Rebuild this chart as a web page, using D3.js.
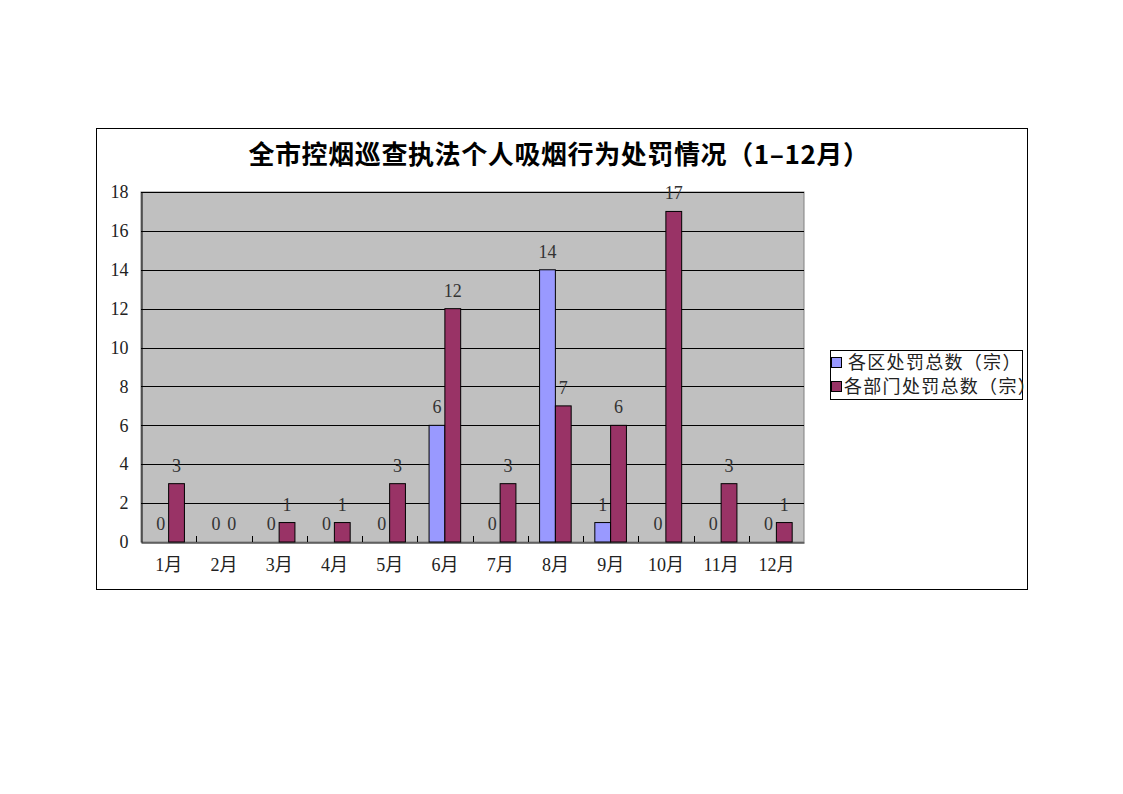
<!DOCTYPE html>
<html>
<head>
<meta charset="utf-8">
<script src="https://cdn.jsdelivr.net/npm/d3@7"></script>
<style>
  body { margin: 0; background: #fff; }
  text { font-family: "Liberation Serif", "DejaVu Serif", "Noto Sans CJK SC", serif; fill: #222; }
</style>
</head>
<body>
<svg id="chart" width="1123" height="794"></svg>
<script>
// data
var months = ["1月", "2月", "3月", "4月", "5月", "6月", "7月", "8月", "9月", "10月", "11月", "12月"];
var seriesNames = ["各区处罚总数（宗）", "各部门处罚总数（宗）"];
var districtVals = [0, 0, 0, 0, 0, 6, 0, 14, 1, 0, 0, 0];
var deptVals = [3, 0, 1, 1, 3, 12, 3, 7, 6, 17, 3, 1];
var yTicks = [0, 2, 4, 6, 8, 10, 12, 14, 16, 18];
var colors = ["#9999FF", "#993366"];

var svg = d3.select("#chart");

// outer chart frame
svg.append("rect")
	.attr("x", 96.5).attr("y", 128.5)
	.attr("width", 931).attr("height", 461)
	.attr("fill", "#fff").attr("stroke", "#000");

svg.append("defs").append("clipPath").attr("id", "frame")
	.append("rect").attr("x", 97).attr("y", 129).attr("width", 930).attr("height", 460);

// title
svg.append("text")
	.attr("x", 559).attr("y", 164)
	.attr("text-anchor", "middle")
	.style("font-family", "'Noto Sans CJK SC', sans-serif")
	.style("font-weight", "bold")
	.style("font-size", "26px")
	.style("letter-spacing", "0.6px")
	.style("fill", "#000")
	.text("全市控烟巡查执法个人吸烟行为处罚情况（1–12月）");

var plotL = 141, plotR = 804, plotT = 192, plotB = 542;

var x = d3.scaleBand().domain(months).range([plotL, plotR])
	.paddingInner(0.428).paddingOuter(0.214);
var xs = d3.scaleBand().domain([0, 1]).range([0, x.bandwidth()]);
var y = d3.scaleLinear().domain([0, 18]).range([plotB, plotT]);

// plot background
svg.append("rect")
	.attr("x", plotL).attr("y", plotT)
	.attr("width", plotR - plotL).attr("height", plotB - plotT)
	.attr("fill", "#C0C0C0").attr("stroke", "#808080");

// gridlines
svg.append("g").selectAll("line")
	.data(yTicks.filter(function(d) { return d > 0; }))
	.join("line")
	.attr("x1", plotL).attr("x2", plotR)
	.attr("y1", function(d) { return Math.round(y(d)) + 0.5; })
	.attr("y2", function(d) { return Math.round(y(d)) + 0.5; })
	.attr("stroke", "#000");

// bars
var series = [districtVals, deptVals];
series.forEach(function(vals, si) {
	svg.append("g").selectAll("rect")
		.data(vals)
		.join("rect")
		.attr("x", function(d, i) { return x(months[i]) + xs(si); })
		.attr("y", function(d) { return y(d); })
		.attr("width", xs.bandwidth())
		.attr("height", function(d) { return plotB - y(d); })
		.attr("fill", colors[si])
		.attr("stroke", "#000")
		.attr("stroke-width", 1);

	svg.append("g").selectAll("text")
		.data(vals)
		.join("text")
		.attr("x", function(d, i) { return x(months[i]) + xs(si) + xs.bandwidth() / 2; })
		.attr("y", function(d) { return y(d) - 12; })
		.attr("text-anchor", "middle")
		.style("font-size", "18px")
		.style("fill", "#333")
		.text(function(d) { return d; });
});

// y axis
var yAxis = svg.append("g")
	.attr("transform", "translate(" + (plotL + 0.5) + ",0)")
	.call(d3.axisLeft(y).tickValues(yTicks).tickSize(0).tickPadding(13));
yAxis.select(".domain").attr("stroke", "#000");
yAxis.selectAll("text").style("font-size", "18px").attr("fill", "#333")
	.style("font-family", "'Liberation Serif', serif");

// x axis with category boundary ticks pointing inward
var xAxis = svg.append("g")
	.attr("transform", "translate(0," + (plotB + 0.5) + ")")
	.call(d3.axisBottom(x).tickSize(0).tickPadding(16));
xAxis.select(".domain").attr("stroke", "#000");
xAxis.selectAll("text").style("font-size", "18px").attr("fill", "#333")
	.style("font-family", "'Liberation Serif', 'Noto Sans CJK SC', serif");

var step = x.step();
svg.append("g").selectAll("line")
	.data(d3.range(1, months.length))
	.join("line")
	.attr("x1", function(i) { return Math.round(plotL + i * step) + 0.5; })
	.attr("x2", function(i) { return Math.round(plotL + i * step) + 0.5; })
	.attr("y1", plotB - 6).attr("y2", plotB)
	.attr("stroke", "#000");

// legend (second entry runs past the box like in the original)
var legend = svg.append("g").attr("clip-path", "url(#frame)");
legend.append("rect")
	.attr("x", 830.5).attr("y", 350.5)
	.attr("width", 192).attr("height", 49)
	.attr("fill", "#fff").attr("stroke", "#000");

seriesNames.forEach(function(name, i) {
	var cy = 363 + i * 24;
	legend.append("rect")
		.attr("x", 831.5).attr("y", cy - 5.5)
		.attr("width", 10).attr("height", 10)
		.attr("fill", colors[i]).attr("stroke", "#000");
	legend.append("text")
		.attr("x", i == 0 ? 848 : 844)
		.attr("y", cy + 6)
		.style("font-family", "'Noto Sans CJK SC', sans-serif")
		.style("font-size", "18px")
		.style("letter-spacing", "1.3px")
		.style("fill", "#222")
		.text(name);
});
</script>
</body>
</html>
